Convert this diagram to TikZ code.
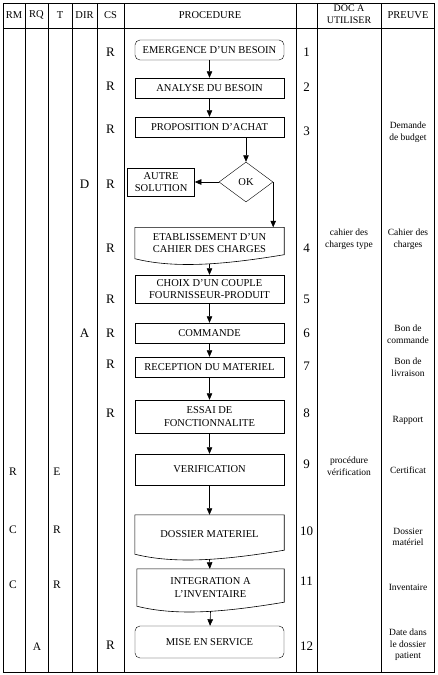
\documentclass[tikz,border=0pt]{standalone}
\usepackage{fontspec}
\setmainfont{Liberation Serif}
\usetikzlibrary{arrows.meta, positioning, shapes.geometric}

\begin{document}
\begin{tikzpicture}[
  x=1pt, y=-1pt,
  >={Triangle[width=5.5pt,length=6.5pt]},
  every node/.style = {font=\fontsize{10}{11}\selectfont},
  %-- table styles -------------------------------------------------------
  frame/.style    = {line width=1pt},
  rule/.style     = {line width=0.5pt},
  headlab/.style  = {font=\fontsize{10.5}{12}\selectfont, align=center},
  cslab/.style    = {font=\fontsize{13}{13}\selectfont},
  rolelab/.style  = {font=\fontsize{11.5}{12}\selectfont},
  numlab/.style   = {font=\fontsize{13}{13}\selectfont},
  doclab/.style   = {font=\fontsize{9.5}{11.5}\selectfont, align=center},
  %-- flow blocks --------------------------------------------------------
  procbox/.style  = {draw, rectangle, minimum width=149pt, minimum height=20pt,
                     align=center, inner sep=1pt,
                     font=\fontsize{10.5}{12.5}\selectfont},
  termbox/.style  = {procbox, rounded corners=5pt},
  docbox/.style   = {rectangle, minimum width=149pt, align=center, inner sep=1pt,
                     font=\fontsize{10.5}{12.5}\selectfont},
  testnode/.style = {draw, diamond, minimum width=54pt, minimum height=40pt,
                     inner sep=0pt, font=\fontsize{10.5}{12}\selectfont},
  arrow/.style    = {->, line width=0.6pt},
]
\useasboundingbox (0,0) rectangle (437,675);

% ── Table frame and columns ──────────────────────────────────────────────────
\draw[frame] (3,3) rectangle (434,672);
\draw[rule] (3,28) -- (434,28);
\foreach \x in {25,48,72,97,124,296,317,381}
  \draw[rule] (\x,3) -- (\x,672);

% ── Header labels ────────────────────────────────────────────────────────────
\node[headlab] (hRM)   at (14,15)    {RM};
\node[headlab] (hRQ)   at (36.5,15)  {RQ};
\node[headlab] (hT)    at (60,15)    {T};
\node[headlab] (hDIR)  at (84.5,15)  {DIR};
\node[headlab] (hCS)   at (110.5,15) {CS};
\node[headlab] (hPROC) at (210,15)   {PROCEDURE};
\node[headlab, font=\fontsize{10}{12}\selectfont] (hDOC) at (349,14) {DOC A\\UTILISER};
\node[headlab] (hPRV)  at (408,15)   {PREUVE};

% ── Procedure blocks ─────────────────────────────────────────────────────────
\node[termbox] (emerg)   at (209.5,50)  {EMERGENCE D'UN BESOIN};
\node[procbox] (analyse) at (209.5,88)  {ANALYSE DU BESOIN};
\node[procbox] (propo)   at (209.5,127) {PROPOSITION D'ACHAT};
\node[testnode] (ok)     at (246,182)   {OK};
\node[procbox, minimum width=67pt, minimum height=28pt, left=24pt of ok]
                (autre)  {AUTRE\\SOLUTION};
\node[docbox, minimum height=31pt] (etab) at (209.5,243)
                {ETABLISSEMENT D'UN\\CAHIER DES CHARGES};
\node[procbox, minimum height=28pt] (choix) at (209.5,289)
                {CHOIX D'UN COUPLE\\FOURNISSEUR-PRODUIT};
\node[procbox] (cmd)     at (209.5,333) {COMMANDE};
\node[procbox] (recep)   at (209.5,367) {RECEPTION DU MATERIEL};
\node[procbox, minimum height=33pt] (essai) at (209.5,416.5)
                {ESSAI DE\\FONCTIONNALITE};
\node[procbox, minimum height=31pt] (verif) at (209.5,469.5) {VERIFICATION};
\node[docbox, minimum height=39pt] (dossier) at (209.5,534.5) {DOSSIER MATERIEL};
\node[docbox, minimum height=37pt, minimum width=147pt] (integ) at (210.5,587.5)
                {INTEGRATION A\\L'INVENTAIRE};
\node[termbox, minimum height=32pt] (mise) at (209.5,642) {MISE EN SERVICE};

% document outlines (wavy bottom)
\foreach \n in {etab, dossier, integ}
  \draw[line width=0.6pt] (\n.south west) -- (\n.north west) -- (\n.north east)
        -- ([yshift=4pt]\n.south east)
        .. controls ([xshift=-60pt,yshift=-6pt]\n.south east)
               and ([xshift=40pt,yshift=-10pt]\n.south west) .. (\n.south west);

% ── Connectors ───────────────────────────────────────────────────────────────
\draw[arrow] (emerg) -- (analyse);
\draw[arrow] (analyse) -- (propo);
\draw[arrow] (propo.south -| ok.north) -- (ok.north);
\draw[arrow] (ok.west) -- (ok.west -| autre.east);
\draw[arrow] (ok.east) -- (ok.east |- etab.north);
\draw[arrow] ([yshift=-5pt]etab.south) -- (choix);
\draw[arrow] (choix) -- (cmd);
\draw[arrow] (cmd) -- (recep);
\draw[arrow] (recep) -- (essai);
\draw[arrow] (essai) -- (verif);
\draw[arrow] (verif) -- (dossier);
\draw[arrow] ([yshift=-5pt]dossier.south) -- (integ);
\draw[arrow] ([yshift=-5pt]integ.south) -- (mise);

% ── CS column ────────────────────────────────────────────────────────────────
\foreach \y [count=\i] in {52,86,129,184,248,299,333,364,413,645}
  \node[cslab] (cs\i) at (110.5,\y) {R};

% ── Step numbers ─────────────────────────────────────────────────────────────
\foreach \y [count=\i] in {52,87,131,248,299,333,366,413,464,531,581,646}
  \node[numlab] (num\i) at (306.5,\y) {\i};

% ── Roles RM / RQ / T / DIR ──────────────────────────────────────────────────
\node[rolelab] (rm9)   at (13,472)  {R};
\node[rolelab] (rm10)  at (13,530)  {C};
\node[rolelab] (rm11)  at (13,585)  {C};
\node[rolelab] (rq12)  at (37,647)  {A};
\node[rolelab] (t9)    at (57,472)  {E};
\node[rolelab] (t10)   at (57,530)  {R};
\node[rolelab] (t11)   at (57,585)  {R};
\node[cslab]   (dir4)  at (84.5,184) {D};
\node[cslab]   (dir6)  at (84.5,333) {A};

% ── Documents to use ─────────────────────────────────────────────────────────
\node[doclab] (doc4) at (349,239) {cahier des\\charges type};
\node[doclab] (doc9) at (349,466) {procédure\\vérification};

% ── Proofs ───────────────────────────────────────────────────────────────────
\node[doclab] (prv3)  at (408,132) {Demande\\de budget};
\node[doclab] (prv4)  at (408,239) {Cahier des\\charges};
\node[doclab] (prv6)  at (408,334) {Bon de\\commande};
\node[doclab] (prv7)  at (408,367) {Bon de\\livraison};
\node[doclab] (prv8)  at (408,420) {Rapport};
\node[doclab] (prv9)  at (408,470) {Certificat};
\node[doclab] (prv10) at (408,537) {Dossier\\matériel};
\node[doclab] (prv11) at (408,587) {Inventaire};
\node[doclab] (prv12) at (408,645) {Date dans\\le dossier\\patient};

\end{tikzpicture}
\end{document}
